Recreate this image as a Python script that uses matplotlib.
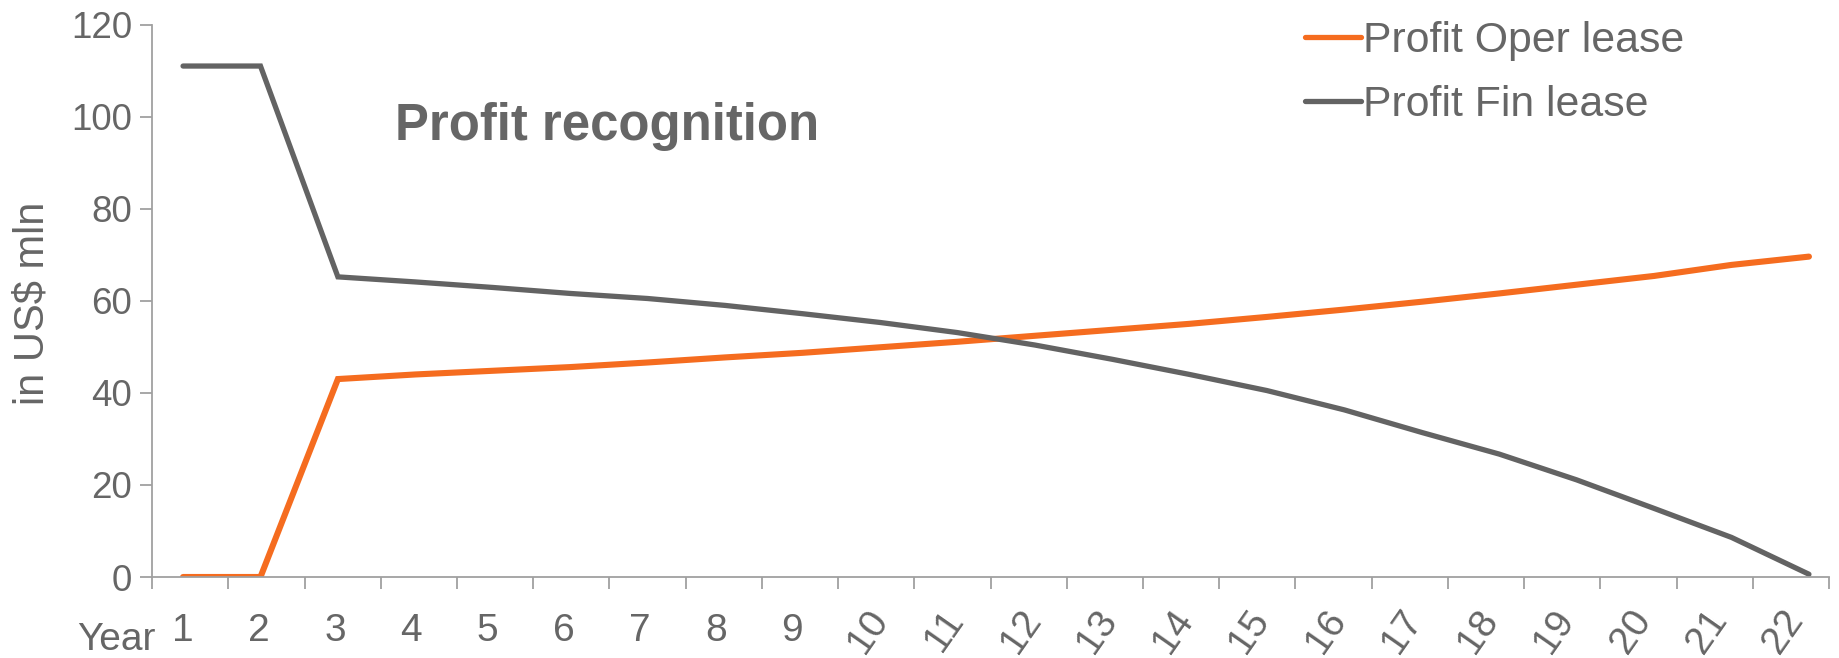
import numpy as np
import matplotlib
matplotlib.use("Agg")
from matplotlib import pyplot as plt
from matplotlib import transforms

plt.rcParams['font.family'] = ['Liberation Sans', 'DejaVu Sans']

# years on the x axis
years = [str(y) for y in range(1, 23)]

# profit per year, US$ mln
profit_oper = [0, 0, 43.0, 44.0, 44.8, 45.6, 46.6, 47.7, 48.7, 49.9, 51.1,
               52.4, 53.7, 55.0, 56.5, 58.1, 59.8, 61.6, 63.5, 65.4, 67.8, 69.6]
profit_fin = [111, 111, 65.2, 64.1, 62.9, 61.6, 60.5, 59.0, 57.2, 55.3, 53.1,
              50.4, 47.3, 44.0, 40.5, 36.3, 31.4, 26.7, 21.1, 14.9, 8.6, 0.6]

orange = '#F56C1F'
dark = '#636363'
text_grey = '#666666'
axis_grey = '#A0A0A0'

fig = plt.figure(figsize=(18.39, 6.58), dpi=100)
ax = fig.add_axes([0.0827, 0.1231, 0.9946 - 0.0827, 0.9626 - 0.1231])

x = np.arange(len(years))
ax.plot(x, profit_oper, color=orange, lw=4.4, solid_capstyle='round',
        solid_joinstyle='miter', label='Profit Oper lease')
ax.plot(x, profit_fin, color=dark, lw=3.8, solid_capstyle='round',
        solid_joinstyle='miter', label='Profit Fin lease')

# category axis: ticks on the boundaries, labels between them
x_lo, x_hi = -0.40, 21.26
ax.set_xlim(x_lo, x_hi)
ax.set_ylim(0, 120)
edges = np.linspace(x_lo, x_hi, len(years) + 1)
ax.set_xticks(edges)
ax.set_xticklabels([])
ax.set_yticks(range(0, 121, 20))

for s in ['top', 'right']:
    ax.spines[s].set_visible(False)
for s in ['left', 'bottom']:
    ax.spines[s].set_color(axis_grey)
    ax.spines[s].set_linewidth(1.3)
ax.tick_params(axis='both', colors=axis_grey, length=8.5, width=1.3, direction='out')
ax.tick_params(axis='y', labelcolor=text_grey, labelsize=26.5, pad=6)

trans = transforms.blended_transform_factory(ax.transData, ax.transAxes)
centers = (edges[:-1] + edges[1:]) / 2
for c, lab in zip(centers, years):
    rot = 0 if len(lab) == 1 else 55
    ax.text(c - 0.1, -0.098, lab, transform=trans, rotation=rot,
            ha='center', va='center', fontsize=28, color=text_grey,
            rotation_mode='anchor')

fig.text(77 / 1839, 1 - 650 / 658, 'Year', ha='left', va='baseline',
         fontsize=28, color=text_grey)

fig.text(33 / 1839, 1 - 303 / 658, 'in US$ mln', rotation=90, ha='center',
         va='center', fontsize=30, color=text_grey)

fig.text(395 / 1839, 1 - 140 / 658, 'Profit recognition', ha='left',
         va='baseline', fontsize=36.6, fontweight='bold', color=text_grey)

leg = ax.legend(loc='upper left', bbox_to_anchor=(1305 / 1839, 1 - 21 / 658),
                bbox_transform=fig.transFigure, frameon=False, fontsize=30.8,
                handlelength=1.3, handletextpad=0.05, borderpad=0,
                borderaxespad=0, labelspacing=0.57)
for t in leg.get_texts():
    t.set_color(text_grey)
for h in leg.get_lines():
    h.set_linewidth(3.8)

fig.savefig('out.png', dpi=100)
